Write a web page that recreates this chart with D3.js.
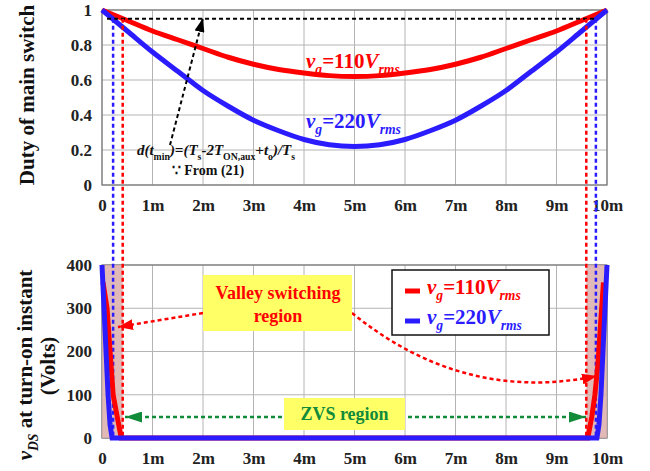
<!DOCTYPE html>
<html>
<head>
<meta charset="utf-8">
<script src="https://cdn.jsdelivr.net/npm/d3@7"></script>
<style>
  body { margin: 0; background: #fff; }
</style>
</head>
<body>
<svg id="chart" width="650" height="471" font-family="Liberation Serif" font-weight="bold"></svg>
<script>
// ---- data (time in ms) ----
var tTop = [0,0.5,1,1.5,2,2.5,3,3.5,4,4.5,5,5.5,6,6.5,7,7.5,8,8.5,9,9.5,10]
var duty110 = [1,0.94,0.88,0.83,0.78,0.73,0.69,0.66,0.64,0.625,0.62,0.625,0.64,0.66,0.69,0.73,0.78,0.83,0.88,0.94,1]
var duty220 = [1,0.88,0.76,0.65,0.54,0.45,0.37,0.31,0.26,0.23,0.22,0.23,0.26,0.31,0.37,0.45,0.54,0.65,0.76,0.88,1]
var dMin = 0.95

var tVds110 = [0.02,0.1,0.16,0.22,0.3,0.38,9.62,9.7,9.76,9.82,9.87,9.93]
var vds110  = [360,300,200,100,50,0,0,50,100,170,260,360]
var tVds220 = [0,0.04,0.08,0.12,0.16,0.2,9.8,9.84,9.88,9.92,9.96,10]
var vds220  = [400,300,200,100,30,0,0,30,100,200,300,400]

var tBoundRed = [0.41, 9.59]
var tBoundBlue = [0.22, 9.78]
var shadeRegions = [[0,0.41],[9.59,10]]

var xTicks = [0,1,2,3,4,5,6,7,8,9,10]
var xTickLabels = ["0","1m","2m","3m","4m","5m","6m","7m","8m","9m","10m"]
var dutyTicks = [0,0.2,0.4,0.6,0.8,1]
var vdsTicks = [0,100,200,300,400]

var RED = "#ff0000", BLUE = "#2b1cff", GREEN = "#118a3a", YEL = "#ffff66"
var SERIF = "'Liberation Serif', 'Times New Roman', serif"

var svg = d3.select("#chart")
var x = d3.scaleLinear().domain([0,10]).range([102,607])
var yTop = d3.scaleLinear().domain([0,1]).range([185,10])
var yBot = d3.scaleLinear().domain([0,400]).range([438,265])

//---arrow markers---
var defs = svg.append("defs")
function marker(id, color, len, wid) {
  defs.append("marker").attr("id", id)
    .attr("markerUnits", "userSpaceOnUse")
    .attr("viewBox", "0 0 " + len + " " + wid)
    .attr("refX", len).attr("refY", wid/2)
    .attr("markerWidth", len).attr("markerHeight", wid)
    .attr("orient", "auto")
    .append("path").attr("d", "M0,0L" + len + "," + (wid/2) + "L0," + wid + "Z").attr("fill", color)
}
marker("arRed", RED, 15, 11)
marker("arGreen", GREEN, 17, 11)
marker("arBlack", "#000", 14, 10)

//---plain text helper---
function label(parent, xx, yy, size, color, str, anchor) {
  return parent.append("text").attr("x", xx).attr("y", yy).attr("font-size", size)
    .attr("font-family", SERIF).attr("font-weight", "bold")
    .attr("fill", color).attr("text-anchor", anchor || "start").text(str)
}

//---grid + frame---
function drawGrid(y, ticks) {
  var g = svg.append("g")
  g.selectAll(".gx").data(xTicks).enter().append("line")
    .attr("x1", d => x(d)).attr("x2", d => x(d))
    .attr("y1", y.range()[0]).attr("y2", y.range()[1])
    .attr("stroke", "#b4b4b4").attr("stroke-width", 1)
  g.selectAll(".gy").data(ticks).enter().append("line")
    .attr("x1", x(0)).attr("x2", x(10))
    .attr("y1", d => y(d)).attr("y2", d => y(d))
    .attr("stroke", "#b4b4b4").attr("stroke-width", 1)
  g.append("rect").attr("x", x(0)).attr("y", y.range()[1])
    .attr("width", x(10) - x(0)).attr("height", y.range()[0] - y.range()[1])
    .attr("fill", "none").attr("stroke", "#777").attr("stroke-width", 1.2)
  var yAx = d3.axisLeft(y).tickValues(ticks).tickSize(0).tickPadding(10)
    .tickFormat(d => d3.format("~g")(d))
  var ax = svg.append("g").attr("transform", "translate(" + x(0) + ",0)").call(yAx)
  ax.attr("font-family", SERIF).attr("font-size", 17)
  ax.select(".domain").remove()
  ax.selectAll("text").attr("fill", "#222").attr("font-family", SERIF).attr("font-weight", "bold")
  var xAx = d3.axisBottom(x).tickValues(xTicks).tickSize(0).tickPadding(14)
    .tickFormat((d, i) => xTickLabels[i])
  var bx = svg.append("g").attr("transform", "translate(0," + y.range()[0] + ")").call(xAx)
  bx.attr("font-family", SERIF).attr("font-size", 17)
  bx.select(".domain").remove()
  bx.selectAll("text").attr("fill", "#222").attr("font-family", SERIF).attr("font-weight", "bold")
}
drawGrid(yTop, dutyTicks)
drawGrid(yBot, vdsTicks)

//---shaded valley regions---
svg.selectAll(".shade").data(shadeRegions).enter().append("rect")
  .attr("x", d => x(d[0])).attr("width", d => x(d[1]) - x(d[0]))
  .attr("y", yBot(400)).attr("height", yBot(0) - yBot(400))
  .attr("fill", "#dcaeab").attr("opacity", 0.85)

//---top curves---
var lineTop = d3.line().x((d, i) => x(tTop[i])).y(d => yTop(d)).curve(d3.curveMonotoneX)
svg.append("path").attr("d", lineTop(duty110)).attr("fill", "none").attr("stroke", RED).attr("stroke-width", 5)
svg.append("path").attr("d", lineTop(duty220)).attr("fill", "none").attr("stroke", BLUE).attr("stroke-width", 5)

//---dMin dashed line---
svg.append("line").attr("x1", x(0.1)).attr("x2", x(9.8))
  .attr("y1", yTop(dMin)).attr("y2", yTop(dMin))
  .attr("stroke", "#000").attr("stroke-width", 2).attr("stroke-dasharray", "4,3")

//---vertical boundary lines---
tBoundRed.forEach(function(t) {
  svg.append("line").attr("x1", x(t)).attr("x2", x(t)).attr("y1", yTop(dMin)).attr("y2", yBot(0))
    .attr("stroke", RED).attr("stroke-width", 2.5).attr("stroke-dasharray", "4,3")
})
tBoundBlue.forEach(function(t) {
  svg.append("line").attr("x1", x(t)).attr("x2", x(t)).attr("y1", yTop(dMin)).attr("y2", yBot(0))
    .attr("stroke", BLUE).attr("stroke-width", 2.5).attr("stroke-dasharray", "4,3")
})

//---bottom curves---
function lineBot(ts) {
  return d3.line().x((d, i) => x(ts[i])).y(d => yBot(d))
}
svg.append("path").attr("d", lineBot(tVds110)(vds110)).attr("fill", "none").attr("stroke", RED).attr("stroke-width", 5)
svg.append("path").attr("d", lineBot(tVds220)(vds220)).attr("fill", "none").attr("stroke", BLUE).attr("stroke-width", 5)

//---rich text helper---
function rich(parent, xx, yy, size, color, parts, anchor) {
  var t = label(parent, xx, yy, size, color, null, anchor)
  var shift = 0
  parts.forEach(function(p) {
    var s = t.append("tspan").text(p.t)
    var want = p.sub ? size * 0.3 : 0
    if (want != shift) { s.attr("dy", want - shift); shift = want }
    if (p.sub) s.attr("font-size", size * 0.65)
    if (p.i) s.attr("font-style", "italic")
  })
  return t
}
function vgParts(v) {
  return [{t:"v", i:true}, {t:"g", i:true, sub:true}, {t:"=" + v}, {t:"V", i:true}, {t:"rms", i:true, sub:true}]
}

//---top labels---
rich(svg, 306, 68, 21, RED, vgParts("110"))
rich(svg, 306, 128, 21, BLUE, vgParts("220"))

rich(svg, 216, 155, 15, "#111", [
  {t:"d(t", i:true}, {t:"min", sub:true}, {t:")=(", i:true}, {t:"T", i:true}, {t:"s", sub:true},
  {t:"-2", i:true}, {t:"T", i:true}, {t:"ON,aux", sub:true}, {t:"+", i:true}, {t:"t", i:true},
  {t:"o", sub:true}, {t:")/", i:true}, {t:"T", i:true}, {t:"s", sub:true}
], "middle")
label(svg, 208, 175, 14, "#111", "\u2235 From (21)", "middle")
svg.append("line").attr("x1", 170).attr("y1", 145).attr("x2", 203).attr("y2", 18)
  .attr("stroke", "#000").attr("stroke-width", 2).attr("stroke-dasharray", "4,3")
  .attr("marker-end", "url(#arBlack)")

//---axis titles---
label(svg, 0, 0, 21, "#111", "Duty of main switch", "middle").attr("transform", "translate(34,95) rotate(-90)")
var yl = rich(svg, 0, 0, 21, "#111", [{t:"v", i:true}, {t:"DS", i:true, sub:true}, {t:" at turn-on instant"}], "middle")
yl.attr("transform", "translate(32,365) rotate(-90)")
label(svg, 0, 0, 21, "#111", "(Volts)", "middle").attr("transform", "translate(55,366) rotate(-90)")

//---valley switching annotation---
svg.append("path").attr("d", "M203,313L118,327").attr("fill", "none")
  .attr("stroke", RED).attr("stroke-width", 2.5).attr("stroke-dasharray", "4,3").attr("marker-end", "url(#arRed)")
svg.append("path").attr("d", "M352,313C420,368 500,396 597,376").attr("fill", "none")
  .attr("stroke", RED).attr("stroke-width", 2.5).attr("stroke-dasharray", "4,3").attr("marker-end", "url(#arRed)")
svg.append("rect").attr("x", 203).attr("y", 275).attr("width", 149).attr("height", 56).attr("fill", YEL)
label(svg, 278, 299, 18, RED, "Valley switching", "middle")
label(svg, 278, 322, 18, RED, "region", "middle")

//---ZVS annotation---
svg.append("line").attr("x1", 345).attr("x2", 125).attr("y1", 417).attr("y2", 417)
  .attr("stroke", GREEN).attr("stroke-width", 2.5).attr("stroke-dasharray", "4,3").attr("marker-end", "url(#arGreen)")
svg.append("line").attr("x1", 345).attr("x2", 586).attr("y1", 417).attr("y2", 417)
  .attr("stroke", GREEN).attr("stroke-width", 2.5).attr("stroke-dasharray", "4,3").attr("marker-end", "url(#arGreen)")
svg.append("rect").attr("x", 284).attr("y", 398).attr("width", 121).attr("height", 32).attr("fill", YEL)
label(svg, 344.5, 420, 18, GREEN, "ZVS region", "middle")

//---legend---
var lg = svg.append("g")
lg.append("rect").attr("x", 392).attr("y", 270).attr("width", 157).attr("height", 65)
  .attr("fill", "#fff").attr("stroke", "#111").attr("stroke-width", 1.5)
;[[RED, "110", 294], [BLUE, "220", 324]].forEach(function(e) {
  lg.append("line").attr("x1", 405).attr("x2", 420).attr("y1", e[2] - 3).attr("y2", e[2] - 3)
    .attr("stroke", e[0]).attr("stroke-width", 5)
  rich(lg, 427, e[2], 21, e[0], vgParts(e[1]))
})
</script>
</body>
</html>
